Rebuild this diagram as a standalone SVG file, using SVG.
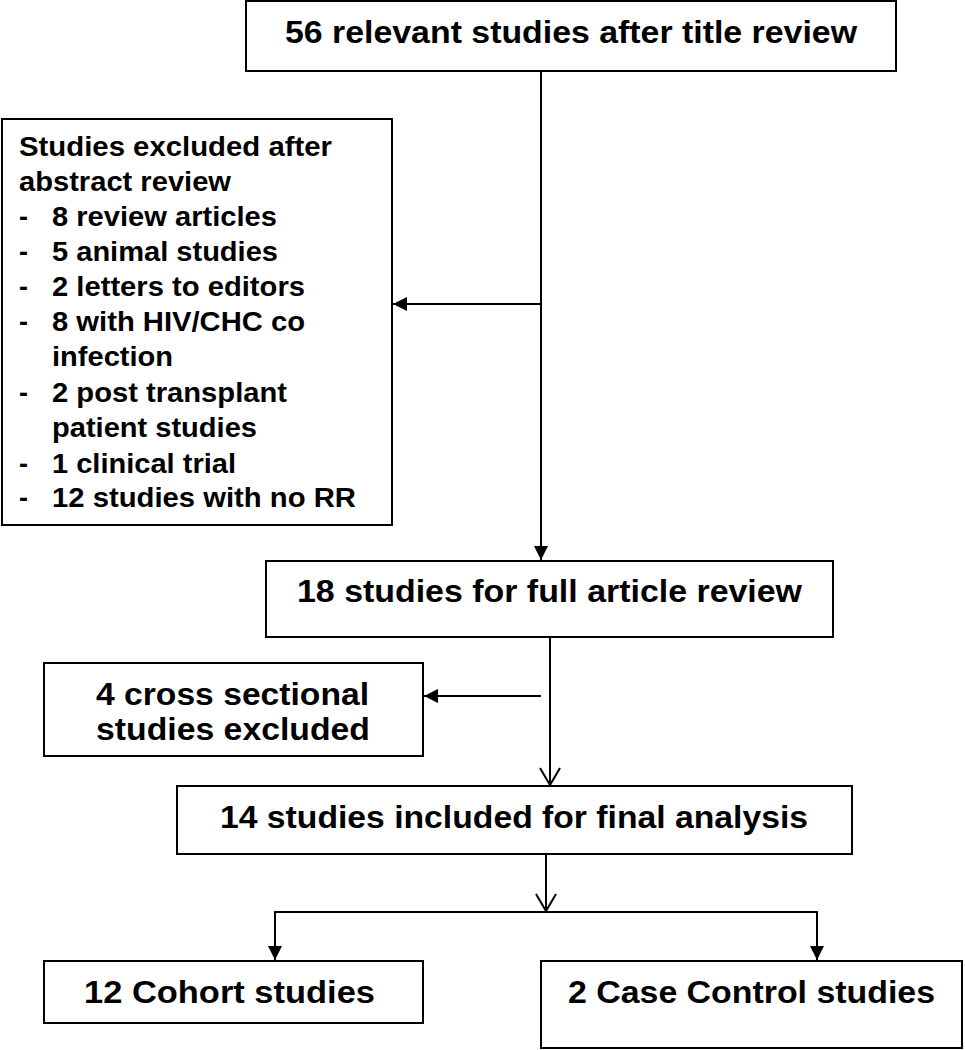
<svg xmlns="http://www.w3.org/2000/svg" width="965" height="1050" viewBox="0 0 965 1050">
<style>
.box{fill:#fff;stroke:#000;stroke-width:2}
.t{font-family:"Liberation Sans",Arial,sans-serif;font-weight:bold;font-size:31px;fill:#000}
.s{font-family:"Liberation Sans",Arial,sans-serif;font-weight:bold;font-size:27px;fill:#000}
.c{fill:none;stroke:#000;stroke-width:2}
</style>
<defs>
<marker id="fa" markerUnits="userSpaceOnUse" markerWidth="14" markerHeight="14" viewBox="0 0 13 13" refX="13" refY="6.5" orient="auto">
<path d="M0,0 L13,6.5 L0,13 z" fill="#000"/>
</marker>
<marker id="va" markerUnits="userSpaceOnUse" markerWidth="22" markerHeight="26" viewBox="-2 -12 22 24" refX="17" refY="0" orient="auto">
<path d="M0,-10 L17,0 L0,10" fill="none" stroke="#000" stroke-width="2"/>
</marker>
</defs>
<rect width="965" height="1050" fill="#fff"/>
<g id="connectors">
<path class="c" d="M541,71 V560" marker-end="url(#fa)"/>
<path class="c" d="M541,304 H393" marker-end="url(#fa)"/>
<path class="c" d="M550,637 V785" marker-end="url(#va)"/>
<path class="c" d="M541,696 H424" marker-end="url(#fa)"/>
<path class="c" d="M546,854 V911" marker-end="url(#va)"/>
<path class="c" d="M546,912 H275 V960" marker-end="url(#fa)"/>
<path class="c" d="M546,912 H817 V960" marker-end="url(#fa)"/>
</g>
<g id="n1">
<rect class="box" x="246" y="1" width="650" height="70"/>
<text class="t" x="285" y="43" textLength="572" lengthAdjust="spacingAndGlyphs">56 relevant studies after title review</text>
</g>
<g id="n2">
<rect class="box" x="2" y="119" width="390" height="406"/>
<text class="s" x="19" y="156" textLength="313" lengthAdjust="spacingAndGlyphs">Studies excluded after</text>
<text class="s" x="19" y="191" textLength="212" lengthAdjust="spacingAndGlyphs">abstract review</text>
<text class="s" x="19" y="226">-</text>
<text class="s" x="52" y="226" textLength="225" lengthAdjust="spacingAndGlyphs">8 review articles</text>
<text class="s" x="19" y="261">-</text>
<text class="s" x="52" y="261" textLength="226" lengthAdjust="spacingAndGlyphs">5 animal studies</text>
<text class="s" x="19" y="296">-</text>
<text class="s" x="52" y="296" textLength="253" lengthAdjust="spacingAndGlyphs">2 letters to editors</text>
<text class="s" x="19" y="331">-</text>
<text class="s" x="52" y="331" textLength="253" lengthAdjust="spacingAndGlyphs">8 with HIV/CHC co</text>
<text class="s" x="52" y="366" textLength="121" lengthAdjust="spacingAndGlyphs">infection</text>
<text class="s" x="19" y="402">-</text>
<text class="s" x="52" y="402" textLength="235" lengthAdjust="spacingAndGlyphs">2 post transplant</text>
<text class="s" x="52" y="437" textLength="205" lengthAdjust="spacingAndGlyphs">patient studies</text>
<text class="s" x="19" y="473">-</text>
<text class="s" x="52" y="473" textLength="184" lengthAdjust="spacingAndGlyphs">1 clinical trial</text>
<text class="s" x="19" y="507">-</text>
<text class="s" x="52" y="507" textLength="304" lengthAdjust="spacingAndGlyphs">12 studies with no RR</text>
</g>
<g id="n3">
<rect class="box" x="266" y="561" width="567" height="76"/>
<text class="t" x="297" y="602" textLength="505" lengthAdjust="spacingAndGlyphs">18 studies for full article review</text>
</g>
<g id="n4">
<rect class="box" x="44" y="663" width="379" height="93"/>
<text class="t" x="96" y="705" textLength="273" lengthAdjust="spacingAndGlyphs">4 cross sectional</text>
<text class="t" x="96" y="740" textLength="274" lengthAdjust="spacingAndGlyphs">studies excluded</text>
</g>
<g id="n5">
<rect class="box" x="177" y="786" width="675" height="68"/>
<text class="t" x="220" y="828" textLength="588" lengthAdjust="spacingAndGlyphs">14 studies included for final analysis</text>
</g>
<g id="n6">
<rect class="box" x="44" y="961" width="379" height="62"/>
<text class="t" x="84" y="1003" textLength="291" lengthAdjust="spacingAndGlyphs">12 Cohort studies</text>
</g>
<g id="n7">
<rect class="box" x="541" y="961" width="421" height="87"/>
<text class="t" x="568" y="1003" textLength="367" lengthAdjust="spacingAndGlyphs">2 Case Control studies</text>
</g>
</svg>
